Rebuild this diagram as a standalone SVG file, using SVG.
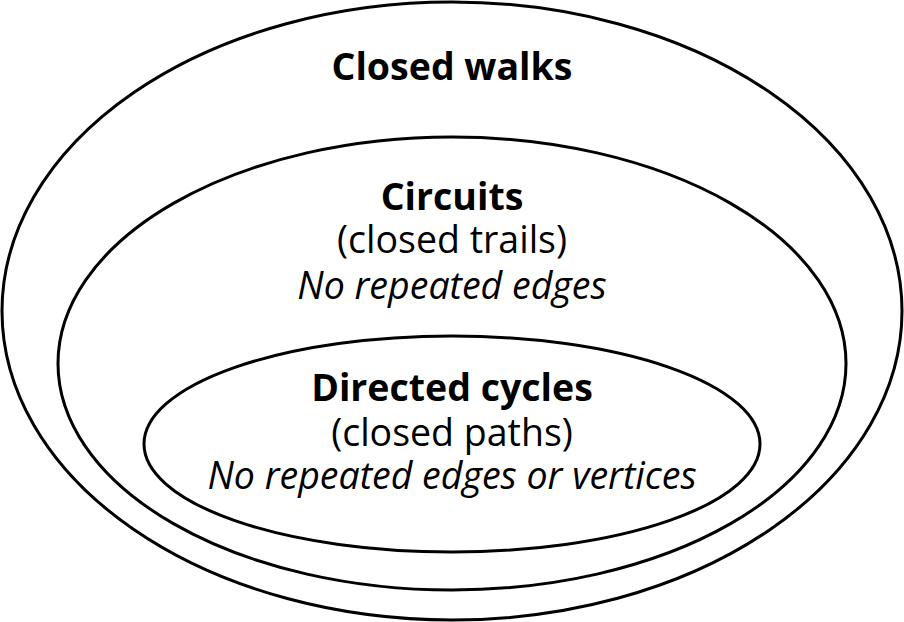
<svg xmlns="http://www.w3.org/2000/svg" width="904" height="622" viewBox="0 0 904 622">
<style>
.e{fill:none;stroke:#000;stroke-width:3}
text{font-family:"Open Sans","Noto Sans",sans-serif;font-size:37.5px;text-anchor:middle;fill:#000}
.b{font-weight:bold}
.i{font-style:italic}
</style>
<rect width="904" height="622" fill="#fff"/>
<g id="closed-walks">
<ellipse class="e" cx="452" cy="311" rx="450" ry="309"/>
<text class="b" x="452" y="80">Closed walks</text>
</g>
<g id="circuits">
<ellipse class="e" cx="452" cy="363.5" rx="394" ry="226.5"/>
<text class="b" x="452" y="210">Circuits</text>
<text x="452" y="253">(closed trails)</text>
<text class="i" x="452" y="299">No repeated edges</text>
</g>
<g id="directed-cycles">
<ellipse class="e" cx="452" cy="444" rx="308" ry="108"/>
<text class="b" x="452" y="401">Directed cycles</text>
<text x="452" y="446">(closed paths)</text>
<text class="i" x="452" y="489">No repeated edges or vertices</text>
</g>
<g id="connectors"/>
</svg>
